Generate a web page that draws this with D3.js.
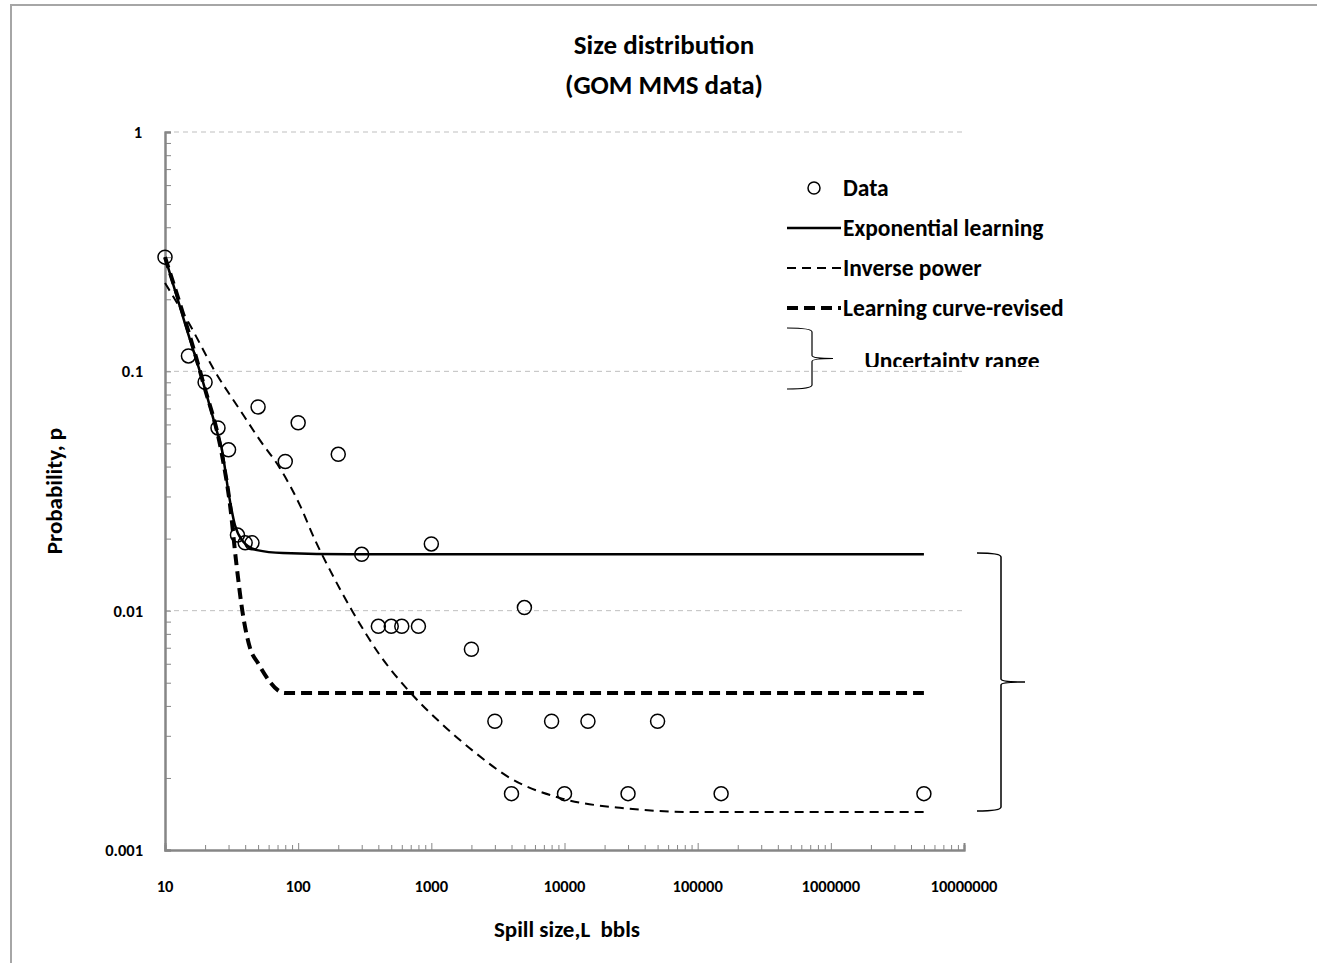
<!DOCTYPE html>
<html>
<head>
<meta charset="utf-8">
<script src="https://cdn.jsdelivr.net/npm/d3@7"></script>
<style>
  body { margin: 0; background: #fff; }
  svg text { font-family: Carlito, "Liberation Sans Narrow", "Open Sans", sans-serif; font-weight: bold; fill: #000; white-space: pre; }
</style>
</head>
<body>
<svg class="chart" width="1317" height="963"></svg>
<script>
// observed spills
const dataL = [10, 15, 20, 25, 30, 35, 40, 45, 50, 80, 100, 200, 300, 400, 500, 600, 800, 1000,
               2000, 3000, 4000, 5000, 8000, 10000, 15000, 30000, 50000, 150000, 5000000];
const dataP = [0.30, 0.116, 0.090, 0.058, 0.047, 0.0207, 0.0192, 0.0192, 0.071, 0.042, 0.061, 0.045, 0.0172,
               0.0086, 0.0086, 0.0086, 0.0086, 0.019, 0.0069, 0.00345, 0.00172, 0.0103, 0.00345, 0.00172,
               0.00345, 0.00172, 0.00345, 0.00172, 0.00172];

// fitted curves
const expL = [10, 14.1, 19.3, 24.1, 26.8, 30.2, 33.5, 37.9, 49.1, 76.9, 245, 5000000];
const expP = [0.30, 0.159, 0.0902, 0.058, 0.0469, 0.0304, 0.0228, 0.0197, 0.0179, 0.0174, 0.0172, 0.0172];

const powL = [10, 15.4, 23.7, 36.6, 51.6, 72.9, 103, 134, 173, 254, 411, 690, 1160, 2120, 3890, 9230, 26100, 104000, 5000000];
const powP = [0.234, 0.156, 0.1, 0.0689, 0.0516, 0.0394, 0.0276, 0.0197, 0.0148, 0.01, 0.00652, 0.00457,
              0.00342, 0.00256, 0.002, 0.00165, 0.0015, 0.00144, 0.00144];

const revL = [10, 19.3, 26.8, 30.8, 34.1, 38.5, 43.5, 49.9, 79.4, 5000000];
const revP = [0.30, 0.0902, 0.0447, 0.0276, 0.0163, 0.0096, 0.00698, 0.00604, 0.00453, 0.00453];

const xTicks = [10, 100, 1000, 10000, 100000, 1000000, 10000000];
const yTicks = [0.001, 0.01, 0.1, 1];
const legendItems = ["Data", "Exponential learning", "Inverse power", "Learning curve-revised"];

const svg = d3.select('svg.chart');

// outer frame
svg.append('path')
  .attr('d', 'M11,963 L11,5 L1317,5')
  .attr('fill', 'none')
  .attr('stroke', '#a6a6a6')
  .attr('stroke-width', 2);

const x = d3.scaleLog().domain([10, 1e7]).range([165, 964]);
const y = d3.scaleLog().domain([0.001, 1]).range([850, 132]);

// gridlines
svg.append('g')
  .selectAll('line')
  .data(yTicks.slice(1))
  .enter()
  .append('line')
  .attr('x1', x(10)).attr('x2', x(1e7))
  .attr('y1', d => y(d)).attr('y2', d => y(d))
  .attr('stroke', '#bfbfbf')
  .attr('stroke-dasharray', '5,4')
  .attr('stroke-width', 1);

// minor tick values
const xMinor = [];
for (let e = 1; e < 7; e++) for (let m = 2; m <= 9; m++) xMinor.push(m * Math.pow(10, e));
const yMinor = [];
for (let e = -3; e < 0; e++) for (let m = 2; m <= 9; m++) yMinor.push(m * Math.pow(10, e));

const axisCol = '#868686';

// x axis
const xAxisG = svg.append('g').attr('transform', `translate(0,${y(0.001)})`);
xAxisG.call(d3.axisTop(x).tickValues(xMinor).tickSize(5).tickFormat(''));
xAxisG.call(g => g.append('g').call(d3.axisTop(x).tickValues(xTicks).tickSize(7).tickFormat('')));
xAxisG.selectAll('path.domain').attr('stroke', axisCol).attr('stroke-width', 2);
xAxisG.selectAll('line').attr('stroke', axisCol);

svg.append('g')
  .selectAll('text')
  .data(xTicks)
  .enter()
  .append('text')
  .attr('x', d => x(d))
  .attr('y', 892)
  .attr('text-anchor', 'middle')
  .style('font-size', '16.5px')
  .text(d => d);

// y axis
const yAxisG = svg.append('g').attr('transform', `translate(${x(10)},0)`);
yAxisG.call(d3.axisRight(y).tickValues(yMinor).tickSize(6).tickFormat(''));
yAxisG.call(g => g.append('g').call(d3.axisRight(y).tickValues(yTicks).tickSize(6).tickFormat('')));
yAxisG.selectAll('path.domain').attr('stroke', axisCol).attr('stroke-width', 2);
yAxisG.selectAll('line').attr('stroke', axisCol);

svg.append('g')
  .selectAll('text')
  .data(yTicks)
  .enter()
  .append('text')
  .attr('x', d => d === 1 ? 142 : 143)
  .attr('y', d => y(d) + 6)
  .attr('text-anchor', 'end')
  .style('font-size', '16.5px')
  .text(d => d);

// titles
svg.append('text').attr('x', 664).attr('y', 54).attr('text-anchor', 'middle')
  .style('font-size', '27px').text('Size distribution');
svg.append('text').attr('x', 664).attr('y', 94).attr('text-anchor', 'middle')
  .style('font-size', '27px').text('(GOM MMS data)');
svg.append('text').attr('x', 567).attr('y', 937).attr('text-anchor', 'middle')
  .style('font-size', '23px').text('Spill size,L  bbls');
svg.append('text').attr('transform', 'translate(62,491) rotate(-90)').attr('text-anchor', 'middle')
  .style('font-size', '23px').text('Probability, p');

// curves
const line = d3.line().x(d => x(d[0])).y(d => y(d[1])).curve(d3.curveMonotoneX);
const curves = [
  {L: expL, P: expP, w: 2.5, dash: null},
  {L: powL, P: powP, w: 2, dash: '9,6'},
  {L: revL, P: revP, w: 4, dash: '11,6'}
];
svg.append('g')
  .selectAll('path')
  .data(curves)
  .enter()
  .append('path')
  .attr('d', c => line(c.L.map((l, i) => [l, c.P[i]])))
  .attr('fill', 'none')
  .attr('stroke', '#000')
  .attr('stroke-width', c => c.w)
  .attr('stroke-dasharray', c => c.dash);

// data points
svg.append('g')
  .selectAll('circle')
  .data(dataL.map((l, i) => [l, dataP[i]]))
  .enter()
  .append('circle')
  .attr('cx', d => x(d[0]))
  .attr('cy', d => y(d[1]))
  .attr('r', 7)
  .attr('fill', 'none')
  .attr('stroke', '#000')
  .attr('stroke-width', 1.5);

// legend
const leg = svg.append('g');
leg.append('circle').attr('cx', 814).attr('cy', 188).attr('r', 6)
  .attr('fill', 'none').attr('stroke', '#000').attr('stroke-width', 1.5);
curves.forEach((c, i) => {
  leg.append('line')
    .attr('x1', 787).attr('x2', 841)
    .attr('y1', 228 + i * 40).attr('y2', 228 + i * 40)
    .attr('stroke', '#000')
    .attr('stroke-width', c.w)
    .attr('stroke-dasharray', c.dash);
});
leg.selectAll('text')
  .data(legendItems)
  .enter()
  .append('text')
  .attr('x', 843)
  .attr('y', (d, i) => 196 + i * 40)
  .style('font-size', '23.5px')
  .text(d => d);

// braces
function brace(xl, xv, xt, y0, y1) {
  const ym = (y0 + y1) / 2;
  return `M${xl},${y0} Q${xv},${y0} ${xv},${y0 + 4} L${xv},${ym - 3} Q${xv},${ym} ${xt},${ym}` +
         ` M${xl},${y1} Q${xv},${y1} ${xv},${y1 - 4} L${xv},${ym + 3} Q${xv},${ym} ${xt},${ym}`;
}
svg.append('path').attr('d', brace(787, 812, 833, 328, 389))
  .attr('fill', 'none').attr('stroke', '#000').attr('stroke-width', 1.2);
svg.append('path').attr('d', brace(977, 1001, 1025, 553, 811))
  .attr('fill', 'none').attr('stroke', '#000').attr('stroke-width', 1.5);

svg.append('clipPath').attr('id', 'uclip')
  .append('rect').attr('x', 850).attr('y', 330).attr('width', 250).attr('height', 37);
svg.append('text').attr('x', 952).attr('y', 369).attr('text-anchor', 'middle')
  .attr('clip-path', 'url(#uclip)')
  .style('font-size', '23.5px').text('Uncertainty range');
</script>
</body>
</html>
